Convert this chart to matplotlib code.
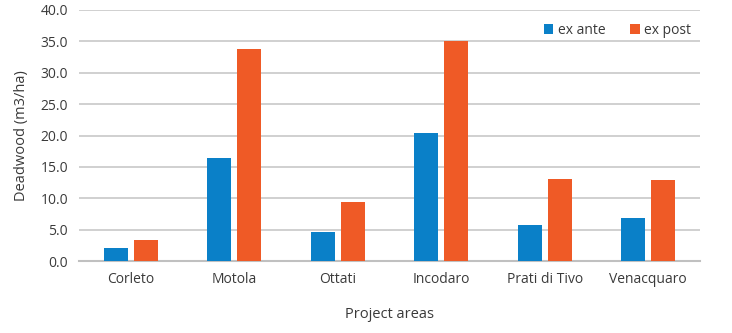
import matplotlib
matplotlib.use("Agg")
import matplotlib.pyplot as plt
import numpy as np

plt.rcParams['font.family'] = ['Open Sans', 'DejaVu Sans']

categories = ["Corleto", "Motola", "Ottati", "Incodaro", "Prati di Tivo", "Venacquaro"]
ex_ante = [2.1, 16.4, 4.6, 20.4, 5.7, 6.9]
ex_post = [3.4, 33.8, 9.4, 35.0, 13.1, 12.9]
yticks = [0, 5, 10, 15, 20, 25, 30, 35, 40]

blue = "#0A80C8"
orange = "#EF5A26"
text_c = "#3A3A3A"

fig = plt.figure(figsize=(7.32, 3.33), dpi=100)
ax = fig.add_axes([0.108, 0.216, 0.848, 0.754])

x = np.arange(len(categories))
w = 0.23
ax.bar(x - 0.145, ex_ante, w, color=blue, label="ex ante", zorder=3)
ax.bar(x + 0.145, ex_post, w, color=orange, label="ex post", zorder=3)

ax.set_xlim(-0.5, len(categories) - 0.5)
ax.set_ylim(0, 40)
ax.set_yticks(yticks)
ax.set_yticklabels([f"{v:.1f}" for v in yticks], fontsize=10, color=text_c)
ax.set_xticks(x)
ax.set_xticklabels(categories, fontsize=10, color=text_c)
ax.tick_params(axis='both', length=0)
ax.tick_params(axis='y', pad=8)
ax.tick_params(axis='x', pad=8)
ax.yaxis.grid(True, color="#C8C8C8", linewidth=1.2, zorder=0)
for s in ["top", "right", "left"]:
    ax.spines[s].set_visible(False)
ax.spines["bottom"].set_color("#C0C0C0")
ax.spines["bottom"].set_linewidth(1.5)

ax.set_ylabel("Deadwood (m3/ha)", fontsize=10.5, color=text_c, labelpad=8)
ax.set_xlabel("Project areas", fontsize=10.5, color=text_c, labelpad=14)

leg = ax.legend(loc="upper right", bbox_to_anchor=(0.995, 0.97), ncol=2, frameon=False,
                fontsize=10, handlelength=0.7, handleheight=0.7, handletextpad=0.3,
                columnspacing=1.8, borderaxespad=0)
for t in leg.get_texts():
    t.set_color(text_c)

fig.savefig("out.png", dpi=100)
